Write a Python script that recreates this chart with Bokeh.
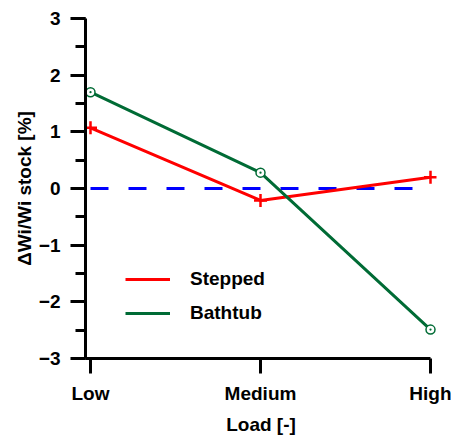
from bokeh.plotting import figure
from bokeh.models import Range1d, FixedTicker, SingleIntervalTicker, Legend, LegendItem
from bokeh.embed import file_html
from bokeh.resources import INLINE

categories = ["Low", "Medium", "High"]
stepped = [1.07, -0.21, 0.20]
bathtub = [1.70, 0.28, -2.49]
reference = [0.0, 0.0, 0.0]

xs = list(range(len(categories)))
FONT = "Liberation Sans"
PAD_L = 5 / 170
PAD_R = 6 / 170

p = figure(width=451, height=441, output_backend="svg", toolbar_location=None,
           x_range=Range1d(-PAD_L, len(categories) - 1 + PAD_R), y_range=Range1d(-3, 3))
p.min_border_left = 85
p.min_border_right = 15
p.min_border_top = 18
p.min_border_bottom = 83
p.outline_line_color = None
p.xgrid.visible = False
p.ygrid.visible = False
p.background_fill_color = "white"
p.border_fill_color = "white"

p.line(xs, reference, line_color="#0000FF", line_width=3, line_dash="18 20")
r_step = p.line(xs, stepped, line_color="#FF0000", line_width=3)
p.scatter(xs, stepped, marker="cross", size=13, line_color="#FF0000", line_width=2.5)
r_bath = p.line(xs, bathtub, line_color="#006B35", line_width=3)
p.scatter(xs, bathtub, marker="circle_dot", size=9, line_color="#006B35",
          fill_color="white", line_width=1.5)

for ax in (p.xaxis[0], p.yaxis[0]):
    ax.axis_line_width = 3
    ax.axis_line_color = "black"
    ax.major_tick_line_width = 3
    ax.major_tick_in = 0
    ax.major_tick_out = 15
    ax.major_label_text_font = FONT
    ax.major_label_text_font_style = "bold"
    ax.major_label_text_font_size = "19px"
    ax.major_label_text_color = "black"
    ax.axis_label_text_font = FONT
    ax.axis_label_text_font_style = "bold"
    ax.axis_label_text_font_size = "19px"
    ax.axis_label_text_color = "black"

p.xaxis.ticker = FixedTicker(ticks=xs)
p.xaxis.bounds = (-PAD_L, len(categories) - 1)
p.xaxis.major_label_overrides = {i: c for i, c in enumerate(categories)}
p.xaxis.minor_tick_line_color = None
p.xaxis.axis_label = "Load [-]"
p.xaxis.major_label_standoff = 9
p.xaxis.axis_label_standoff = 7

p.yaxis.ticker = SingleIntervalTicker(interval=1, num_minor_ticks=2)
p.yaxis.minor_tick_in = 0
p.yaxis.minor_tick_out = 10
p.yaxis.minor_tick_line_width = 3
p.yaxis.minor_tick_line_color = "black"
p.yaxis.axis_label = "\u0394Wi/Wi stock [%]"
p.yaxis.major_label_standoff = 10
p.yaxis.axis_label_standoff = 1

legend = Legend(items=[LegendItem(label="Stepped", renderers=[r_step]),
                       LegendItem(label="Bathtub", renderers=[r_bath])],
                location=(40, 34), padding=0, margin=0, spacing=12,
                glyph_width=45, glyph_height=20, label_height=20, label_standoff=20,
                label_text_font=FONT, label_text_font_style="bold",
                label_text_font_size="19px", label_text_color="black",
                border_line_color=None, background_fill_alpha=0)
p.add_layout(legend)

open("out.html", "w").write(file_html(p, INLINE))
